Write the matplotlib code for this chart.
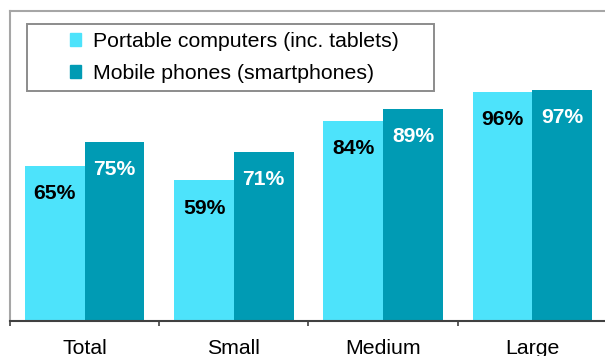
import matplotlib
matplotlib.use("Agg")
import matplotlib.pyplot as plt
from matplotlib.patches import Rectangle, Patch

plt.rcParams['font.family'] = ['Liberation Sans', 'DejaVu Sans']

categories = ["Total", "Small", "Medium", "Large"]
portable = [65, 59, 84, 96]
mobile = [75, 71, 89, 97]
series_names = ["Portable computers (inc. tablets)", "Mobile phones (smartphones)"]

c_light = '#4DE3FB'
c_dark = '#009BB4'

W, H = 605, 356
fig = plt.figure(figsize=(W / 100, H / 100), dpi=100)
ax = fig.add_axes([10 / W, (H - 321) / H, 597 / W, 310 / H])

x = list(range(len(categories)))
bw = 0.4
b1 = ax.bar([i - bw / 2 for i in x], portable, width=bw, color=c_light, linewidth=0)
b2 = ax.bar([i + bw / 2 for i in x], mobile, width=bw, color=c_dark, linewidth=0)

for bars, vals, col in ((b1, portable, 'black'), (b2, mobile, 'white')):
    for r, v in zip(bars, vals):
        ax.annotate(f"{v}%", (r.get_x() + r.get_width() / 2, v),
                    xytext=(0, -20), textcoords='offset points',
                    ha='center', va='center', fontsize=15.2, fontweight='bold', color=col)

ax.set_xlim(-0.5, len(categories) - 0.5)
ax.set_ylim(0, 130)

ax.set_xticks([i - 0.5 for i in range(len(categories) + 1)])
ax.set_xticklabels([])
ax.tick_params(axis='x', which='major', direction='out', length=3.6, width=1.2, color='#404040')
ax.set_xticks(x, minor=True)
ax.set_xticklabels(categories, minor=True, fontsize=15.3)
ax.tick_params(axis='x', which='minor', length=0, pad=13)
ax.set_yticks([])

for s in ('top', 'left', 'right'):
    ax.spines[s].set_color('#A6A6A6')
    ax.spines[s].set_linewidth(1.5)
ax.spines['bottom'].set_color('#404040')
ax.spines['bottom'].set_linewidth(1.5)

# legend frame
fig.patches.append(Rectangle((27 / W, (H - 91) / H), (434 - 27) / W, 67 / H,
                             transform=fig.transFigure, fill=False,
                             edgecolor='#8C8C8C', linewidth=1.4))
handles = [Patch(color=c_light), Patch(color=c_dark)]
fig.legend(handles, series_names, loc='upper left',
           bbox_to_anchor=(70 / W, (H - 32) / H), frameon=False, fontsize=15.3,
           handlelength=0.53, handleheight=0.53, handletextpad=0.56,
           labelspacing=0.62, borderpad=0, borderaxespad=0)

fig.savefig("out.png", dpi=100)
